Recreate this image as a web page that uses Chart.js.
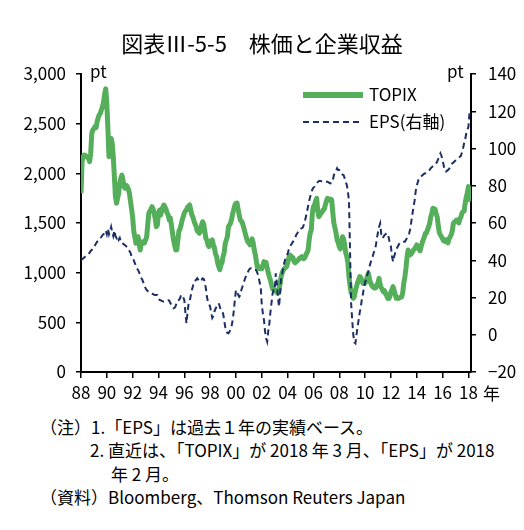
<!DOCTYPE html>
<html lang="ja">
<head>
<meta charset="utf-8">
<script src="https://cdn.jsdelivr.net/npm/chart.js@4.4.0/dist/chart.umd.min.js"></script>
<style>
body{margin:0;background:#fff;}
#wrap{position:relative;width:524px;height:530px;}
#chart{display:block;}
#notes{position:absolute;left:0;top:415px;font-family:'Noto Sans CJK JP',sans-serif;font-size:17px;line-height:23.3px;color:#000;white-space:nowrap;}
</style>
</head>
<body>
<div id="wrap">
<canvas id="chart" width="524" height="410"></canvas>
<div id="notes">
  <div style="margin-left:40px">（注）1.「EPS」は過去１年の実績ベース。</div>
  <div style="margin-left:90px">2. 直近は、「TOPIX」が 2018 年 3 月、「EPS」が 2018</div>
  <div style="margin-left:111px">年 2 月。</div>
  <div style="margin-left:40px">（資料）Bloomberg、Thomson Reuters Japan</div>
</div>
</div>
<script>
// monthly data, first value = Jan 1988
var startYear = 1988;
var tickYears = [1988,1990,1992,1994,1996,1998,2000,2002,2004,2006,2008,2010,2012,2014,2016,2018];

// TOPIX (pt, left axis), one row per year
var topix = [
  1800,2120,2170,2185,2180,2170,2160,2150,2117,2200,2400,2436, // 88
  2450,2470,2460,2520,2560,2590,2604,2640,2671,2720,2800,2850, // 89
  2700,2450,2168,2250,2352,2300,2168,1966,1765,1698,1750,1800, // 90
  1899,1950,1983,1930,1866,1850,1880,1866,1840,1799,1720,1640, // 91
  1560,1420,1362,1296,1330,1362,1300,1228,1300,1310,1296,1300, // 92
  1329,1360,1480,1598,1620,1640,1664,1640,1600,1540,1463,1480, // 93
  1600,1631,1580,1620,1660,1681,1660,1640,1600,1580,1530,1550, // 94
  1480,1400,1329,1280,1228,1230,1330,1420,1440,1480,1530,1564, // 95
  1600,1620,1631,1660,1670,1681,1630,1581,1560,1520,1490,1463, // 96
  1420,1410,1396,1420,1480,1513,1490,1420,1346,1330,1280,1262, // 97
  1290,1320,1329,1280,1250,1190,1161,1100,1060,1030,1080,1100, // 98
  1161,1200,1290,1329,1360,1463,1480,1500,1540,1598,1640,1680, // 99
  1698,1700,1640,1581,1530,1520,1500,1463,1420,1380,1340,1310, // 00
  1300,1280,1300,1340,1300,1228,1180,1111,1050,1060,1040,1050, // 01
  1040,1070,1111,1094,1100,1050,1000,960,926,880,840,826,      // 02
  830,815,800,792,820,893,960,1000,1027,1040,1050,1060,        // 03
  1100,1140,1178,1170,1140,1150,1111,1100,1111,1120,1130,1145, // 04
  1150,1160,1145,1140,1150,1180,1200,1228,1329,1400,1430,1600, // 05
  1664,1680,1720,1748,1620,1564,1580,1600,1610,1631,1640,1680, // 06
  1720,1748,1740,1732,1740,1730,1600,1497,1450,1396,1330,1300, // 07
  1262,1240,1300,1362,1340,1280,1200,1161,1100,960,870,800,    // 08
  780,742,760,820,859,900,930,960,950,920,893,890,             // 09
  893,920,960,994,940,900,876,860,850,843,850,880,             // 10
  900,943,880,850,830,808,820,790,770,742,740,760,             // 11
  809,830,859,820,780,742,750,740,750,750,758,800,             // 12
  900,960,1050,1161,1228,1195,1180,1190,1210,1228,1240,1260,   // 13
  1279,1250,1240,1220,1260,1300,1330,1360,1396,1400,1430,1460, // 14
  1497,1560,1600,1648,1620,1640,1597,1560,1470,1400,1380,1362, // 15
  1340,1320,1330,1312,1330,1300,1340,1362,1380,1420,1497,1510, // 16
  1520,1530,1530,1500,1540,1560,1600,1614,1620,1700,1760,1800, // 17
  1866,1780,1715                                               // 18 (to Mar)
];

// EPS (right axis)
var eps = [
  40,40.5,41,41.5,42,42.5,43,43.5,44,45,45.5,46.5,          // 88
  47,48,49,50,50.5,51.5,52,52.5,53.5,54,55,56,              // 89
  54,57,54,56,58,55,53,56,53,52,53,51,                      // 90
  52,50,50,49,48.5,48,47.5,47,46,45,44,42,                  // 91
  41,40,38.5,37,35.5,34.8,33.5,32,30.5,29.5,28,26.5,        // 92
  25,24,23.5,23,22.5,22.2,22,21.8,21.5,21.3,21.3,21.3,      // 93
  20,18.7,18.5,18.2,18,17.7,17.7,18,18.3,18.5,18.3,17,      // 94
  16,15,14.2,14.5,15.5,17.7,18.5,18.7,19.5,21.3,21.3,20,    // 95
  18.7,12,6.1,12,16.9,18,21,24,26,28.5,29,29.5,             // 96
  30.3,29.5,28.5,29,29.4,30.3,30,28.5,25,20.4,17.7,16.5,    // 97
  15,12,9,10,12.4,14,15,16,16.9,15,13,12,                   // 98
  11.5,8,4.3,2,1,0.8,1.6,3,5,7.9,13,19,                     // 99
  24,23,21.5,20.4,21.3,24,25.8,27.5,29.4,31,32,33.5,        // 00
  34.8,35.5,35.7,35.5,35,34.8,34.8,34.5,33,31.2,28,25.8,    // 01
  16,11.5,8,2,-1.9,-3.7,2,6,12,17,22,24,                    // 02
  24,33,28,20,15,22,31,33,36,39,41,42,                      // 03
  43.5,45.5,46.5,48.2,49,50,51,52,53.6,54.5,55.5,56.2,      // 04
  57,57.1,57.5,59,61,63.4,66,69,72,74.1,76,78,              // 05
  79,79.5,80.4,81,82,82.5,82.7,82.5,82.3,82.2,82,82.2,      // 06
  82.2,82.2,81.8,81.5,81.3,81.5,83,85.8,87,88,89.4,88.5,    // 07
  88.5,87.5,86.5,86,85.8,84,82,80.4,77,72,45,17,            // 08
  8,0,-4,-4.6,0,4.3,8,12,15,19,22,25.8,                     // 09
  28,30,32,34,36.5,38.5,40.5,42,44,45.5,48,52,              // 10
  55,58,59.8,54,51.8,52.5,53.5,54,54.5,54.5,52,49,          // 11
  47.3,42,39.2,42,44,45.5,47,48,49.1,49.5,49.5,49.8,        // 12
  50,50,51,52,53,54.5,57,61,65,68.8,72,77,                  // 13
  80,82,84,84.5,85,85.5,86,86.5,86.7,87,87.5,88,            // 14
  88.5,89.4,90,90.5,91,91.5,92,93,94.5,96,97.4,96,          // 15
  93.8,91,88,87.6,88,88.5,89,90,91,92,92.5,93,              // 16
  93.5,94,94.5,95,95.6,96,98,100,102.8,105,108,110,         // 17
  111.7,118.9                                               // 18 (to Feb)
];

var FONT = "'Noto Sans CJK JP',sans-serif";
var green = '#55ae5a';
var navy = '#1b2f66';

function monthly(arr){
  var out = [];
  for (var i = 0; i < arr.length; i++) {
    out.push({x: startYear + i / 12, y: arr[i]});
  }
  return out;
}

// pt labels, 年, legend
var decor = {
  id: 'decor',
  afterDraw: function(chart){
    var ctx = chart.ctx, a = chart.chartArea;
    var ds = chart.data.datasets;
    ctx.save();
    ctx.fillStyle = '#000';
    ctx.font = '17px ' + FONT;
    ctx.textBaseline = 'alphabetic';
    ctx.textAlign = 'left';
    ctx.fillText('pt', a.left + 9, a.top + 3.5);
    ctx.fillText('pt', a.right - 24, a.top + 3.5);
    ctx.textBaseline = 'middle';
    ctx.fillText('年', a.right + 12, a.bottom + 22);

    // legend
    var lx = 303, rows = [95, 122];
    var items = [ds[0], ds[1]];
    for (var i = 0; i < items.length; i++) {
      var d = items[i];
      ctx.beginPath();
      ctx.strokeStyle = d.borderColor;
      ctx.lineWidth = d.borderWidth + (i === 0 ? 1 : 0);
      ctx.setLineDash(d.borderDash || []);
      ctx.moveTo(lx, rows[i]);
      ctx.lineTo(lx + 60, rows[i]);
      ctx.stroke();
      ctx.setLineDash([]);
      ctx.fillStyle = '#000';
      ctx.fillText(d.label, lx + 66, rows[i]);
    }
    ctx.restore();
  }
};

var ctx = document.getElementById('chart').getContext('2d');
var chart = new Chart(ctx, {
  type: 'line',
  data: {
    datasets: [{
      label: 'TOPIX',
      data: monthly(topix),
      yAxisID: 'y',
      borderColor: green,
      borderWidth: 5,
      pointRadius: 0,
      tension: 0,
      borderJoinStyle: 'round',
      order: 2
    }, {
      label: 'EPS(右軸)',
      data: monthly(eps),
      yAxisID: 'y2',
      borderColor: navy,
      borderWidth: 2,
      borderDash: [6, 4],
      pointRadius: 0,
      tension: 0,
      order: 1
    }]
  },
  options: {
    responsive: false,
    animation: false,
    events: [],
    devicePixelRatio: 1,
    layout: {padding: 0},
    plugins: {
      legend: {display: false},
      tooltip: {enabled: false},
      title: {
        display: true,
        text: '図表Ⅲ-5-5　株価と企業収益',
        color: '#000',
        font: {family: FONT, size: 22, weight: 'normal'},
        padding: {top: 30, bottom: 17.6}
      }
    },
    scales: {
      x: {
        type: 'linear',
        min: 1988,
        max: 2018.2,
        afterBuildTicks: function(s){
          s.ticks = tickYears.map(function(v){ return {value: v}; });
        },
        afterFit: function(s){ s.height = 38; },
        ticks: {
          autoSkip: false,
          maxRotation: 0,
          padding: 4,
          color: '#000',
          font: {family: FONT, size: 17},
          callback: function(v){ return String(v % 100).padStart(2, '0'); }
        },
        grid: {drawOnChartArea: false, tickLength: 6, color: '#000', lineWidth: 1.5},
        border: {color: '#000', width: 2}
      },
      y: {
        position: 'left',
        min: 0,
        max: 3000,
        afterFit: function(s){ s.width = 81; },
        ticks: {
          stepSize: 500,
          padding: 10,
          color: '#000',
          font: {family: FONT, size: 17},
          callback: function(v){ return v.toLocaleString('en-US'); }
        },
        grid: {drawOnChartArea: false, tickLength: 5, color: '#000', lineWidth: 1.5},
        border: {color: '#000', width: 2}
      },
      y2: {
        position: 'right',
        min: -20,
        max: 140,
        afterFit: function(s){ s.width = 53; },
        ticks: {
          stepSize: 20,
          padding: 12,
          color: '#000',
          font: {family: FONT, size: 17},
          callback: function(v){ return v < 0 ? '\u2212' + Math.abs(v) : v; }
        },
        grid: {drawOnChartArea: false, tickLength: 5, color: '#000', lineWidth: 1.5},
        border: {color: '#000', width: 2}
      }
    }
  },
  plugins: [decor]
});
</script>
</body>
</html>
